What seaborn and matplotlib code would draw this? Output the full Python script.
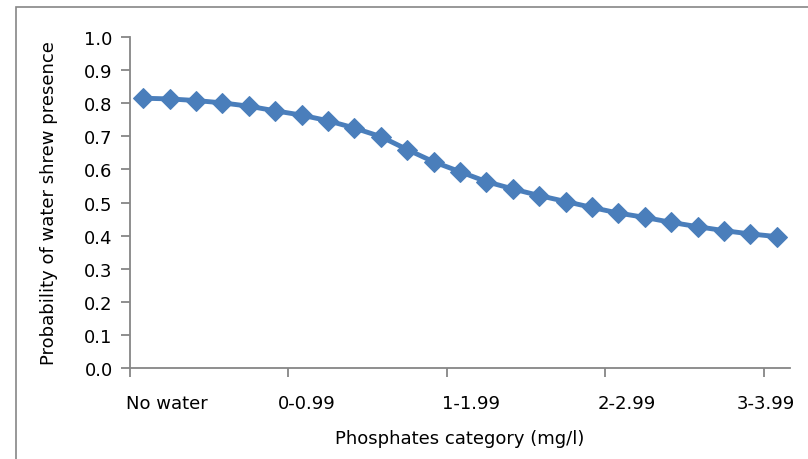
import matplotlib
matplotlib.use("Agg")
import matplotlib.pyplot as plt
import seaborn as sns
import pandas as pd
from matplotlib.patches import Rectangle

# ---- data ----
point_index = list(range(25))
probability = [0.815, 0.813, 0.808, 0.801, 0.791, 0.777, 0.764, 0.747, 0.725,
               0.699, 0.660, 0.623, 0.593, 0.563, 0.541, 0.521, 0.503, 0.485,
               0.468, 0.455, 0.440, 0.427, 0.415, 0.405, 0.397]
category_labels = ["No water", "0-0.99", "1-1.99", "2-2.99", "3-3.99"]
category_label_pos = [0.9, 6.2, 12.4, 18.3, 23.6]
category_boundaries = [-0.5, 5.5, 11.5, 17.5, 23.5]
y_ticks = [round(0.1 * i, 1) for i in range(11)]

df = pd.DataFrame({"idx": point_index, "prob": probability})

sns.set_theme(style="white")
plt.rcParams["font.family"] = ["DejaVu Sans"]
plt.rcParams["text.color"] = "black"
plt.rcParams["axes.labelcolor"] = "black"
plt.rcParams["xtick.color"] = "black"
plt.rcParams["ytick.color"] = "black"

fig = plt.figure(figsize=(8.08, 4.60), dpi=100)
ax = fig.add_axes([130 / 808, 1 - 369 / 460, 660 / 808, 331 / 460])

line_color = "#4a7ebb"
sns.lineplot(data=df, x="idx", y="prob", ax=ax, color=line_color,
             linewidth=3.5, marker="D", markersize=10.5,
             markeredgecolor=line_color, markerfacecolor=line_color)

ax.set_xlim(-0.5, 24.5)
ax.set_ylim(0, 1.0)

axis_gray = "#868686"
for s in ["top", "right"]:
    ax.spines[s].set_visible(False)
for s in ["left", "bottom"]:
    ax.spines[s].set_color(axis_gray)
    ax.spines[s].set_linewidth(1.3)

fs = 13
ax.set_yticks(y_ticks)
ax.set_yticklabels([f"{v:.1f}" for v in y_ticks])
ax.tick_params(axis="y", direction="out", length=6.5, width=1.3, color=axis_gray,
               labelcolor="black", labelsize=fs, pad=6, left=True)

ax.xaxis.remove_overlapping_locs = False
ax.set_xticks(category_boundaries)
ax.set_xticklabels([])
ax.set_xticks(category_label_pos, minor=True)
ax.set_xticklabels(category_labels, minor=True)
ax.tick_params(axis="x", which="major", direction="out", length=6.5, width=1.3,
               color=axis_gray, bottom=True)
ax.tick_params(axis="x", which="minor", length=0, labelsize=fs, pad=19,
               labelcolor="black")

ax.set_xlabel("Phosphates category (mg/l)", fontsize=fs, labelpad=12)
ax.set_ylabel("Probability of water shrew presence", fontsize=fs, labelpad=19)
ax.grid(False)

# outer chart border
fig.patches.append(Rectangle((16 / 808, -0.1), 1.2, 1.1 - 8 / 460,
                             transform=fig.transFigure, fill=False,
                             edgecolor=axis_gray, linewidth=1.2))

fig.savefig("out.png", dpi=100)
